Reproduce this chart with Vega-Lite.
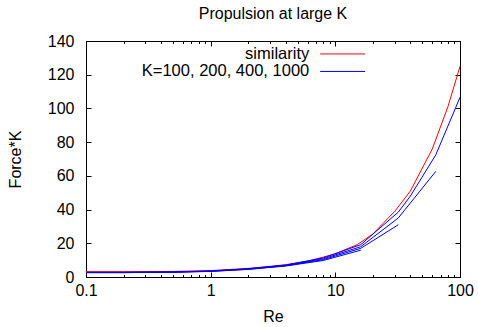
{
  "$schema": "https://vega.github.io/schema/vega-lite/v6.json",
  "width": 374,
  "height": 236,
  "autosize": {"type": "none"},
  "padding": {"left": 86, "top": 41, "right": 18, "bottom": 50},
  "background": "white",
  "title": {"text": "Propulsion at large K", "fontSize": 16, "font": "Liberation Sans", "fontWeight": "normal", "color": "black", "anchor": "middle", "offset": 11},
  "config": {
    "view": {"stroke": null},
    "font": "Liberation Sans",
    "axis": {"domainColor": "black", "tickColor": "black", "labelColor": "black", "titleColor": "black", "labelFont": "Liberation Sans", "titleFont": "Liberation Sans", "labelFontSize": 16, "titleFontSize": 16, "titleFontWeight": "normal", "grid": false, "domainWidth": 1, "tickWidth": 1}
  },
  "data": {"values": [
    {"series": "similarity", "K": "sim", "Re": 0.1, "F": 3.2},
    {"series": "similarity", "K": "sim", "Re": 0.2, "F": 3.2},
    {"series": "similarity", "K": "sim", "Re": 0.5, "F": 3.3},
    {"series": "similarity", "K": "sim", "Re": 1, "F": 3.8},
    {"series": "similarity", "K": "sim", "Re": 2, "F": 5.1},
    {"series": "similarity", "K": "sim", "Re": 3, "F": 6.3},
    {"series": "similarity", "K": "sim", "Re": 4, "F": 7.3},
    {"series": "similarity", "K": "sim", "Re": 6, "F": 9.4},
    {"series": "similarity", "K": "sim", "Re": 8, "F": 11.8},
    {"series": "similarity", "K": "sim", "Re": 10, "F": 13.8},
    {"series": "similarity", "K": "sim", "Re": 15, "F": 19.2},
    {"series": "similarity", "K": "sim", "Re": 20, "F": 25.5},
    {"series": "similarity", "K": "sim", "Re": 30, "F": 39},
    {"series": "similarity", "K": "sim", "Re": 40, "F": 51},
    {"series": "similarity", "K": "sim", "Re": 60, "F": 76},
    {"series": "similarity", "K": "sim", "Re": 80, "F": 101},
    {"series": "similarity", "K": "sim", "Re": 100, "F": 125},
    {"series": "K=100, 200, 400, 1000", "K": "1000", "Re": 0.1, "F": 2.7},
    {"series": "K=100, 200, 400, 1000", "K": "1000", "Re": 0.2, "F": 2.7},
    {"series": "K=100, 200, 400, 1000", "K": "1000", "Re": 0.5, "F": 3.0},
    {"series": "K=100, 200, 400, 1000", "K": "1000", "Re": 1, "F": 3.6},
    {"series": "K=100, 200, 400, 1000", "K": "1000", "Re": 2, "F": 4.9},
    {"series": "K=100, 200, 400, 1000", "K": "1000", "Re": 4, "F": 7.1},
    {"series": "K=100, 200, 400, 1000", "K": "1000", "Re": 8, "F": 11.3},
    {"series": "K=100, 200, 400, 1000", "K": "1000", "Re": 16, "F": 19.2},
    {"series": "K=100, 200, 400, 1000", "K": "1000", "Re": 32, "F": 38.5},
    {"series": "K=100, 200, 400, 1000", "K": "1000", "Re": 40, "F": 48},
    {"series": "K=100, 200, 400, 1000", "K": "1000", "Re": 64, "F": 72.5},
    {"series": "K=100, 200, 400, 1000", "K": "1000", "Re": 100, "F": 106.6},
    {"series": "K=100, 200, 400, 1000", "K": "400", "Re": 0.1, "F": 2.7},
    {"series": "K=100, 200, 400, 1000", "K": "400", "Re": 0.2, "F": 2.7},
    {"series": "K=100, 200, 400, 1000", "K": "400", "Re": 0.5, "F": 2.9},
    {"series": "K=100, 200, 400, 1000", "K": "400", "Re": 1, "F": 3.5},
    {"series": "K=100, 200, 400, 1000", "K": "400", "Re": 2, "F": 4.8},
    {"series": "K=100, 200, 400, 1000", "K": "400", "Re": 4, "F": 6.9},
    {"series": "K=100, 200, 400, 1000", "K": "400", "Re": 8, "F": 10.8},
    {"series": "K=100, 200, 400, 1000", "K": "400", "Re": 16, "F": 18},
    {"series": "K=100, 200, 400, 1000", "K": "400", "Re": 32, "F": 35},
    {"series": "K=100, 200, 400, 1000", "K": "400", "Re": 64, "F": 62.7},
    {"series": "K=100, 200, 400, 1000", "K": "200", "Re": 0.1, "F": 2.6},
    {"series": "K=100, 200, 400, 1000", "K": "200", "Re": 0.2, "F": 2.6},
    {"series": "K=100, 200, 400, 1000", "K": "200", "Re": 0.5, "F": 2.9},
    {"series": "K=100, 200, 400, 1000", "K": "200", "Re": 1, "F": 3.4},
    {"series": "K=100, 200, 400, 1000", "K": "200", "Re": 2, "F": 4.6},
    {"series": "K=100, 200, 400, 1000", "K": "200", "Re": 4, "F": 6.7},
    {"series": "K=100, 200, 400, 1000", "K": "200", "Re": 8, "F": 10.3},
    {"series": "K=100, 200, 400, 1000", "K": "200", "Re": 16, "F": 17},
    {"series": "K=100, 200, 400, 1000", "K": "200", "Re": 32, "F": 31},
    {"series": "K=100, 200, 400, 1000", "K": "100", "Re": 0.1, "F": 2.6},
    {"series": "K=100, 200, 400, 1000", "K": "100", "Re": 0.2, "F": 2.6},
    {"series": "K=100, 200, 400, 1000", "K": "100", "Re": 0.5, "F": 2.8},
    {"series": "K=100, 200, 400, 1000", "K": "100", "Re": 1, "F": 3.3},
    {"series": "K=100, 200, 400, 1000", "K": "100", "Re": 2, "F": 4.5},
    {"series": "K=100, 200, 400, 1000", "K": "100", "Re": 4, "F": 6.5},
    {"series": "K=100, 200, 400, 1000", "K": "100", "Re": 8, "F": 9.8},
    {"series": "K=100, 200, 400, 1000", "K": "100", "Re": 16, "F": 15.9}
  ]},
  "resolve": {"axis": {"x": "independent", "y": "independent"}},
  "layer": [
    {
      "transform": [{"filter": "datum.series === 'similarity'"}],
      "mark": {"type": "line", "strokeWidth": 1},
      "encoding": {
        "x": {"field": "Re", "type": "quantitative", "scale": {"type": "log", "domain": [0.1, 100], "nice": false},
              "axis": {"orient": "bottom", "values": [0.1, 1, 10, 100], "format": "~g", "tickSize": -5, "labelPadding": 10, "labelFlush": false, "title": "Re", "titlePadding": 10}},
        "y": {"field": "F", "type": "quantitative", "scale": {"domain": [0, 140], "nice": false},
              "axis": {"orient": "left", "values": [0, 20, 40, 60, 80, 100, 120, 140], "tickSize": -5, "labelPadding": 17, "title": "Force*K", "titlePadding": 24}},
        "color": {"field": "series", "type": "nominal",
                  "scale": {"domain": ["similarity", "K=100, 200, 400, 1000"], "range": ["#ff0000", "#0000ff"]},
                  "legend": {"orient": "none", "legendX": 248.4, "legendY": 4.7, "title": null, "symbolType": "M-4,0H4", "symbolSize": 126.6, "symbolStrokeWidth": 1, "labelAlign": "right", "labelOffset": -41.65, "labelFontSize": 16.5, "labelFont": "Liberation Sans", "labelColor": "black", "rowPadding": 0.5, "padding": 0, "labelLimit": 0}},
        "detail": {"field": "K", "type": "nominal"}
      }
    },
    {
      "transform": [{"filter": "datum.K === '1000'"}],
      "mark": {"type": "line", "strokeWidth": 1},
      "encoding": {
        "x": {"field": "Re", "type": "quantitative", "axis": {"orient": "top", "values": [0.1, 1, 10, 100], "tickSize": -5, "labels": false, "title": null}},
        "y": {"field": "F", "type": "quantitative", "axis": {"orient": "right", "values": [0, 20, 40, 60, 80, 100, 120, 140], "tickSize": -5, "labels": false, "title": null}},
        "color": {"field": "series", "type": "nominal"},
        "detail": {"field": "K", "type": "nominal"}
      }
    },
    {
      "transform": [{"filter": "datum.K === '400'"}],
      "mark": {"type": "line", "strokeWidth": 1},
      "encoding": {
        "x": {"field": "Re", "type": "quantitative", "axis": {"orient": "bottom", "values": [0.2, 0.3, 0.4, 0.5, 0.6, 0.7, 0.8, 0.9, 2, 3, 4, 5, 6, 7, 8, 9, 20, 30, 40, 50, 60, 70, 80, 90], "tickSize": -2.5, "labels": false, "domain": false, "title": null}},
        "y": {"field": "F", "type": "quantitative", "axis": null},
        "color": {"field": "series", "type": "nominal"},
        "detail": {"field": "K", "type": "nominal"}
      }
    },
    {
      "transform": [{"filter": "datum.K === '200' || datum.K === '100'"}],
      "mark": {"type": "line", "strokeWidth": 1},
      "encoding": {
        "x": {"field": "Re", "type": "quantitative", "axis": {"orient": "top", "values": [0.2, 0.3, 0.4, 0.5, 0.6, 0.7, 0.8, 0.9, 2, 3, 4, 5, 6, 7, 8, 9, 20, 30, 40, 50, 60, 70, 80, 90], "tickSize": -2.5, "labels": false, "domain": false, "title": null}},
        "y": {"field": "F", "type": "quantitative", "axis": null},
        "color": {"field": "series", "type": "nominal"},
        "detail": {"field": "K", "type": "nominal"}
      }
    }
  ]
}
